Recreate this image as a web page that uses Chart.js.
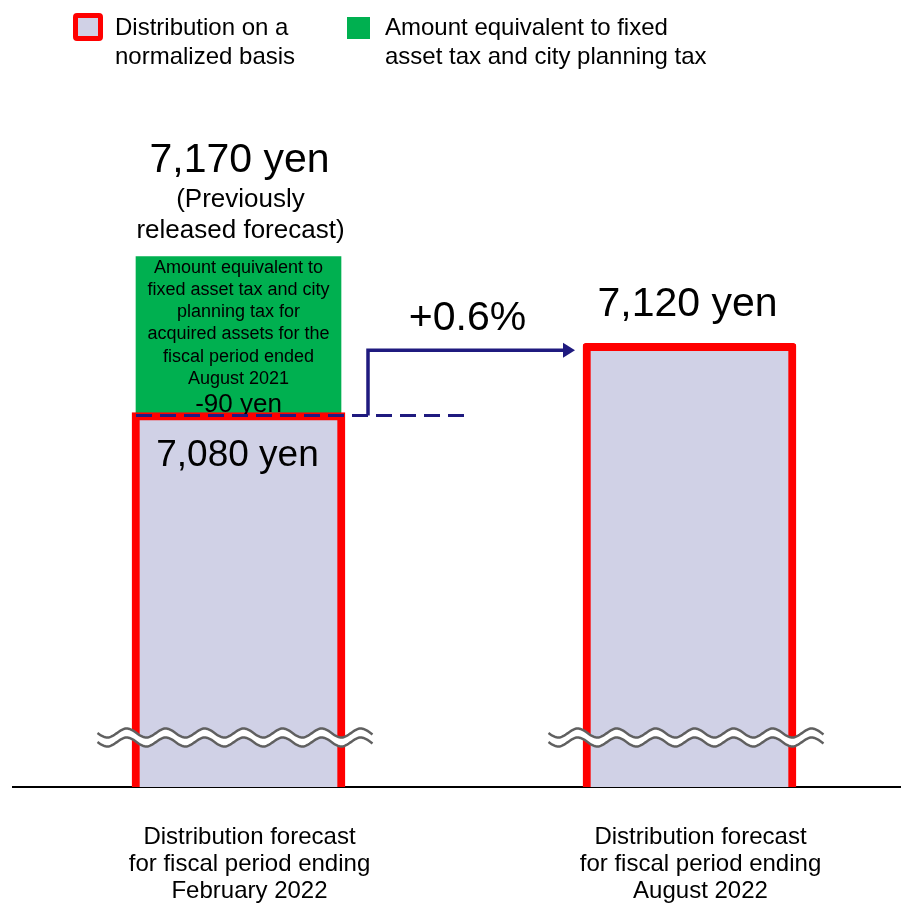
<!DOCTYPE html>
<html>
<head>
<meta charset="utf-8">
<script src="https://cdn.jsdelivr.net/npm/chart.js@4.4.1/dist/chart.umd.min.js"></script>
<style>
  html, body { margin: 0; padding: 0; background: #fff; overflow: hidden; }
  #wrap { position: relative; width: 901px; height: 906px; overflow: hidden; font-family: "Liberation Sans", Arial, sans-serif; }
  #chart { position: absolute; left: 0; top: 0; }
  .legend-text { position: absolute; font-size: 24px; line-height: 29px; color: #000; white-space: nowrap; }
  .box { position: absolute; box-sizing: border-box; }
</style>
</head>
<body>
<div id="wrap">
  <canvas id="chart" width="915" height="906"></canvas>
  <div class="box" style="left:73px;top:13px;width:30px;height:28px;background:#D0D1E6;border:5px solid #FF0000;border-radius:4px;"></div>
  <div class="legend-text" style="left:115px;top:12px;">Distribution on a<br>normalized basis</div>
  <div class="box" style="left:347px;top:17px;width:23px;height:22px;background:#00B050;"></div>
  <div class="legend-text" style="left:385px;top:12px;">Amount equivalent to fixed<br>asset tax and city planning tax</div>
</div>
<script>
// data
const categories = [
  ['Distribution forecast', 'for fiscal period ending', 'February 2022'],
  ['Distribution forecast', 'for fiscal period ending', 'August 2022']
];
const normalized = [7080, 7120];
const taxAmount = [90, 0];
const taxNote = ['Amount equivalent to', 'fixed asset tax and city', 'planning tax for',
  'acquired assets for the', 'fiscal period ended', 'August 2021'];

const FONT = '"Liberation Sans", Arial, sans-serif';
const NAVY = '#1F1A7F';

function yen(v) { return v.toLocaleString('en-US') + ' yen'; }

function wave(ctx, x0, x1, y, amp, len) {
  ctx.moveTo(x0, y);
  for (let x = x0; x <= x1; x += 1) {
    ctx.lineTo(x, y + amp * Math.sin((x - x0) / len * 2 * Math.PI));
  }
}

const notes = {
  id: 'notes',
  afterDatasetsDraw(chart) {
    const ctx = chart.ctx;
    const y = chart.scales.y;
    const b1 = chart.getDatasetMeta(0).data[0];
    const b2 = chart.getDatasetMeta(0).data[1];
    const g1 = chart.getDatasetMeta(1).data[0];
    const area = chart.chartArea;

    ctx.save();
    ctx.fillStyle = '#000';
    ctx.textAlign = 'center';
    ctx.textBaseline = 'middle';

    // previous forecast total
    const total = normalized[0] + taxAmount[0];
    const gTop = y.getPixelForValue(total);
    ctx.font = '41px ' + FONT;
    ctx.fillText(yen(total), b1.x + 1, gTop - 96);
    ctx.font = '26px ' + FONT;
    ctx.fillText('(Previously', b1.x + 2, gTop - 57);
    ctx.fillText('released forecast)', b1.x + 2, gTop - 26);

    // note inside green block
    ctx.font = '18px ' + FONT;
    taxNote.forEach((t, i) => ctx.fillText(t, b1.x, gTop + 11 + i * 22.3));
    ctx.font = '26px ' + FONT;
    ctx.fillText('-' + taxAmount[0] + ' yen', b1.x, gTop + 148);

    // bar values
    ctx.font = '37px ' + FONT;
    ctx.fillText(yen(normalized[0]), b1.x - 1, b1.y + 43);
    ctx.font = '41px ' + FONT;
    ctx.fillText(yen(normalized[1]), b2.x - 2, b2.y - 39);

    // dashed reference line
    const dashY = b1.y + 3;
    ctx.strokeStyle = NAVY;
    ctx.lineWidth = 3;
    ctx.setLineDash([16, 8]);
    ctx.beginPath();
    ctx.moveTo(g1.x - g1.width / 2, dashY);
    ctx.lineTo(b1.x + 232, dashY);
    ctx.stroke();
    ctx.setLineDash([]);

    // growth arrow
    const ax = b1.x + b1.width / 2 + 23;
    const ay = b2.y + 7;
    const tip = b2.x - b2.width / 2 - 8;
    ctx.lineWidth = 3.5;
    ctx.beginPath();
    ctx.moveTo(ax, dashY);
    ctx.lineTo(ax, ay);
    ctx.lineTo(tip - 10, ay);
    ctx.stroke();
    ctx.fillStyle = NAVY;
    ctx.beginPath();
    ctx.moveTo(tip, ay);
    ctx.lineTo(tip - 12, ay - 7.5);
    ctx.lineTo(tip - 12, ay + 7.5);
    ctx.closePath();
    ctx.fill();

    const pct = (normalized[1] - normalized[0]) / normalized[0] * 100;
    ctx.fillStyle = '#000';
    ctx.font = '41px ' + FONT;
    ctx.fillText('+' + pct.toFixed(1) + '%', (ax + tip) / 2 - 4, ay - 32);

    // axis break marks
    const wy = area.bottom - 54;
    [b1, b2].forEach(b => {
      const x0 = b.x - 141, x1 = b.x + 134;
      ctx.fillStyle = '#fff';
      ctx.beginPath();
      wave(ctx, x0, x1, wy, 4.5, 39);
      for (let x = x1; x >= x0; x -= 1) {
        ctx.lineTo(x, wy + 9 + 4.5 * Math.sin((x - x0) / 39 * 2 * Math.PI));
      }
      ctx.closePath();
      ctx.fill();
      ctx.strokeStyle = '#606060';
      ctx.lineWidth = 2.5;
      ctx.beginPath();
      wave(ctx, x0, x1, wy, 4.5, 39);
      ctx.stroke();
      ctx.beginPath();
      wave(ctx, x0, x1, wy + 9, 4.5, 39);
      ctx.stroke();
    });
    ctx.restore();
  }
};

new Chart(document.getElementById('chart'), {
  type: 'bar',
  data: {
    labels: categories,
    datasets: [{
      label: 'Distribution on a normalized basis',
      data: normalized,
      backgroundColor: '#D0D1E6',
      borderColor: '#FF0000',
      borderWidth: 8,
      borderRadius: 3,
      borderSkipped: false,
      barThickness: 213
    }, {
      label: 'Amount equivalent to fixed asset tax and city planning tax',
      data: taxAmount,
      backgroundColor: '#00B050',
      borderWidth: 0,
      barThickness: 205
    }]
  },
  options: {
    responsive: false,
    animation: false,
    events: [],
    layout: { padding: { left: 13, right: 0, top: 0, bottom: 0 } },
    plugins: { legend: { display: false }, tooltip: { enabled: false } },
    scales: {
      x: {
        stacked: true,
        grid: { display: false, drawTicks: false },
        border: { display: true, color: '#000', width: 2 },
        ticks: {
          color: '#000',
          font: { family: FONT, size: 24, lineHeight: 1.125 },
          padding: 37,
          labelOffset: 11,
          maxRotation: 0,
          autoSkip: false
        },
        afterFit(scale) { scale.height = 906 - 787; }
      },
      y: {
        stacked: true,
        display: false,
        min: 6864,
        max: 7318
      }
    }
  },
  plugins: [notes]
});
</script>
</body>
</html>
